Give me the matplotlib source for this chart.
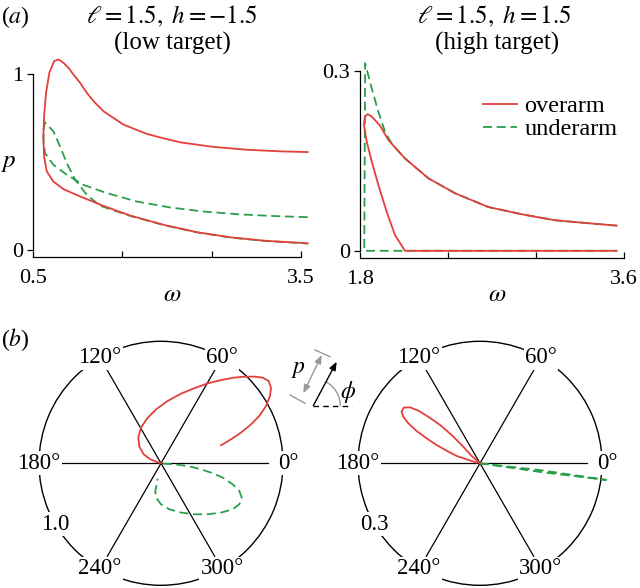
import numpy as np
import matplotlib
matplotlib.use("Agg")
import matplotlib.pyplot as plt
from matplotlib.patches import Arc

plt.rcParams['font.family'] = 'serif'
plt.rcParams['font.serif'] = ['Liberation Serif', 'DejaVu Serif']
plt.rcParams['mathtext.fontset'] = 'stix'

RED = '#e2403a'
GREEN = '#2a9f4a'

# (a) left: low target, p against omega
low_red_w = [3.575, 3.088, 2.713, 2.339, 1.965, 1.590, 1.290, 1.028, 0.840, 0.728, 0.654,
             0.624, 0.616, 0.624, 0.646, 0.683, 0.736, 0.784, 0.840, 0.897, 0.953, 1.028,
             1.103, 1.178, 1.290, 1.402, 1.515, 1.627, 1.777, 1.964, 2.152, 2.526, 2.901,
             3.275, 3.575]
low_red_p = [0.038, 0.053, 0.072, 0.101, 0.143, 0.196, 0.251, 0.305, 0.347, 0.390, 0.448,
             0.533, 0.648, 0.762, 0.895, 1.010, 1.076, 1.086, 1.067, 1.038, 1.000, 0.952,
             0.895, 0.848, 0.790, 0.752, 0.714, 0.691, 0.661, 0.636, 0.613, 0.587, 0.571,
             0.562, 0.558]
low_green_w = [3.575, 3.163, 2.788, 2.413, 2.039, 1.665, 1.328, 1.065, 0.878, 0.728, 0.635,
               0.616, 0.624, 0.635, 0.728, 0.803, 0.878, 0.972, 1.103, 1.253, 1.590, 1.965,
               2.339, 2.713, 3.088, 3.575]
low_green_p = [0.187, 0.194, 0.204, 0.219, 0.242, 0.276, 0.324, 0.371, 0.429, 0.486, 0.552,
               0.629, 0.705, 0.727, 0.676, 0.590, 0.495, 0.400, 0.314, 0.252, 0.194, 0.142,
               0.100, 0.071, 0.052, 0.037]

# (a) right: high target
high_red_w = [3.55, 2.107, 2.039, 1.982, 1.925, 1.880, 1.846, 1.827, 1.834, 1.852, 1.880,
              1.936, 1.993, 2.107, 2.266, 2.448, 2.675, 2.902, 3.129, 3.356, 3.55]
high_red_p = [0.0, 0.0, 0.026, 0.065, 0.110, 0.149, 0.182, 0.210, 0.224, 0.228, 0.224,
              0.209, 0.185, 0.154, 0.121, 0.096, 0.073, 0.061, 0.051, 0.046, 0.042]
high_green_w = [3.55, 3.356, 3.129, 2.902, 2.675, 2.448, 2.266, 2.107, 2.016, 1.970, 1.925,
                1.880, 1.835, 1.829, 2.107, 3.55]
high_green_p = [0.042, 0.046, 0.051, 0.061, 0.073, 0.096, 0.121, 0.154, 0.179, 0.199, 0.232,
                0.271, 0.313, 0.0, 0.0, 0.0]

# (b) polar: angle phi (deg) and p
low_red_phi = [16.7, 18.9, 21.0, 23.4, 25.7, 28.6, 31.7, 34.5, 37.4, 40.1, 42.9, 46.1, 49.5,
               54.2, 59.7, 66.1, 74.0, 83.9, 95.3, 107.4, 119.3, 131.5, 142.4, 152.5, 159.5,
               162.0, 165.0]
low_red_r = [0.513, 0.607, 0.702, 0.804, 0.894, 0.980, 1.050, 1.094, 1.111, 1.090, 1.044,
             0.985, 0.924, 0.841, 0.759, 0.673, 0.594, 0.514, 0.444, 0.384, 0.335, 0.281,
             0.224, 0.160, 0.094, 0.034, 0.0]
low_green_phi = [-10.0, -4.3, -5.8, -8.5, -10.9, -13.0, -16.3, -19.5, -23.0, -27.6, -32.7,
                 -39.4, -47.5, -56.9, -67.9, -79.8, -90.0, -98.3, -101.6, -101.6, -102.2]
low_green_r = [0.014, 0.109, 0.220, 0.331, 0.432, 0.519, 0.612, 0.681, 0.719, 0.725, 0.698,
               0.637, 0.567, 0.499, 0.436, 0.383, 0.336, 0.284, 0.232, 0.176, 0.128]

high_red_phi = [169.7, 163.3, 162.6, 159.3, 157.1, 154.9, 153.0, 150.8, 148.7, 146.6, 143.8,
                141.3, 139.5, 138.0, 136.2, 135.0, 135.2, 138.7, 140.0]
high_red_r = [0.008, 0.034, 0.060, 0.088, 0.116, 0.145, 0.175, 0.202, 0.221, 0.231, 0.232,
              0.220, 0.199, 0.171, 0.136, 0.098, 0.058, 0.027, 0.0]
high_green_phi = [-6.0, -6.5, -7.5, -8.2, -8.5]
high_green_r = [0.0, 0.15, 0.313, 0.15, 0.0]

angle_ticks = [0, 60, 120, 180, 240, 300]

fig = plt.figure(figsize=(6.4, 5.88), dpi=100)

def line_panel(rect, xlim, ylim, xticks, xlabels, yticks, ylabels, rw, rp, gw, gp):
    ax = fig.add_axes(rect)
    ax.plot(gw, gp, color=GREEN, lw=1.3, dashes=(5, 2.6), clip_on=False, zorder=2)
    ax.plot(rw, rp, color=RED, lw=1.3, clip_on=False, zorder=3)
    ax.set_xlim(*xlim)
    ax.set_ylim(*ylim)
    for s in ['top', 'right']:
        ax.spines[s].set_visible(False)
    ax.spines['bottom'].set_position(('outward', 5))
    ax.spines['bottom'].set_bounds(xticks[0], xticks[-1])
    ax.spines['left'].set_bounds(yticks[0], yticks[-1])
    for s in ['bottom', 'left']:
        ax.spines[s].set_linewidth(0.9)
    ax.set_xticks(xticks, xlabels)
    ax.set_yticks(yticks, ylabels)
    ax.tick_params(axis='x', direction='in', length=4, width=0.9, pad=9, labelsize=16)
    ax.tick_params(axis='y', direction='out', length=4, width=0.9, pad=3, labelsize=16)
    return ax

ax1 = line_panel([0.05156, 0.57483, 0.4327, 0.3343], (0.5, 3.6), (0, 1.12),
                 [0.5, 1.5, 2.5, 3.5], ['0.5', '', '', '3.5'], [0, 1], ['0', '1'],
                 low_red_w, low_red_p, low_green_w, low_green_p)
ax2 = line_panel([0.5625, 0.57347, 0.4239, 0.3364], (1.8, 3.65), (0, 0.33),
                 [1.8, 2.4, 3.0, 3.6], ['1.8', '', '', '3.6'], [0, 0.3], ['0', '0.3'],
                 high_red_w, high_red_p, high_green_w, high_green_p)
ax2.lines[1].set_label('overarm')
ax2.lines[0].set_label('underarm')
h, l = ax2.get_legend_handles_labels()
ax2.legend(h[::-1], l[::-1], loc='upper left', bbox_to_anchor=(483 / 640, 1 - 95 / 588),
           bbox_transform=fig.transFigure, frameon=False, fontsize=17.5,
           handlelength=1.4, handletextpad=0.3, labelspacing=0.05,
           borderpad=0, borderaxespad=0)

fig.text(172 / 640, 1 - 16 / 588, r'$\ell = 1.5,\ h = -1.5$', ha='center', va='center', fontsize=18)
fig.text(172 / 640, 1 - 43 / 588, '(low target)', ha='center', va='center', fontsize=18)
fig.text(494 / 640, 1 - 16 / 588, r'$\ell = 1.5,\ h = 1.5$', ha='center', va='center', fontsize=18)
fig.text(497 / 640, 1 - 43 / 588, '(high target)', ha='center', va='center', fontsize=18)
fig.text(1 / 640, 1 - 17 / 588, r'($a$)', ha='left', va='center', fontsize=17)
fig.text(1 / 640, 1 - 340 / 588, r'($b$)', ha='left', va='center', fontsize=17)
fig.text(9 / 640, 1 - 163 / 588, r'$p$', ha='center', va='center', fontsize=18)
fig.text(172 / 640, 1 - 295 / 588, r'$\omega$', ha='center', va='center', fontsize=18)
fig.text(497 / 640, 1 - 295 / 588, r'$\omega$', ha='center', va='center', fontsize=18)


def polar_panel(rect, rmax, rlabel, rphi, rr, gphi, gr):
    ax = fig.add_axes(rect, projection='polar')
    ax.set_ylim(0, rmax)
    ax.set_xticks([])
    ax.set_yticks([])
    ax.grid(False)
    ax.spines['polar'].set_linewidth(1.0)
    for a in angle_ticks:
        t = np.deg2rad(a)
        ax.plot([t, t], [0, 0.88 * rmax], color='black', lw=0.9, zorder=1.5)
        rad = 1.04 * rmax if a == 0 else rmax
        ax.text(t, rad, f'{a}°', ha='center', va='center', fontsize=16.5, zorder=4,
                bbox=dict(fc='white', ec='none', pad=1.0))
    ax.text(np.deg2rad(210), rmax, rlabel, ha='center', va='center', fontsize=16.5, zorder=4,
            bbox=dict(fc='white', ec='none', pad=1.0))
    ax.plot(np.deg2rad(gphi), gr, color=GREEN, lw=1.3, dashes=(5, 2.6), clip_on=False, zorder=3)
    ax.plot(np.deg2rad(rphi), rr, color=RED, lw=1.3, clip_on=False, zorder=3.5)
    return ax

ax3 = polar_panel([39 / 640, 2.7 / 588, 244 / 640, 244 / 588], 1.0, '1.0',
                  low_red_phi, low_red_r, low_green_phi, low_green_r)
ax4 = polar_panel([358 / 640, 2.7 / 588, 244 / 640, 244 / 588], 0.3, '0.3',
                  high_red_phi, high_red_r, high_green_phi, high_green_r)

# small sketch defining p and phi
ov = fig.add_axes([0, 0, 1, 1], zorder=10)
ov.set_xlim(0, 640)
ov.set_ylim(588, 0)
ov.axis('off')
ov.annotate('', xy=(336.7, 361.7), xytext=(313.3, 405.7),
            arrowprops=dict(arrowstyle='-|>,head_length=0.5,head_width=0.2', color='black', lw=1.0,
                            shrinkA=0, shrinkB=0))
ov.plot([313.3, 351.7], [405.7, 405.7], color='black', lw=1.0, dashes=(4, 3))
ov.add_patch(Arc((313.3, 405.7), 54, 54, theta1=-62, theta2=0, color='#999999', lw=1.0))
ov.annotate('', xy=(321.7, 355), xytext=(303.3, 393.3),
            arrowprops=dict(arrowstyle='<|-|>,head_length=0.5,head_width=0.2', color='#999999', lw=1.0,
                            shrinkA=0, shrinkB=0))
ov.plot([315, 330], [350, 356.7], color='#999999', lw=1.0)
ov.plot([290, 305], [395, 403.3], color='#999999', lw=1.0)
ov.text(298, 370, r'$p$', ha='center', va='center', fontsize=17)
ov.text(348.3, 392, r'$\phi$', ha='center', va='center', fontsize=17)

fig.savefig('out.png', dpi=100)
